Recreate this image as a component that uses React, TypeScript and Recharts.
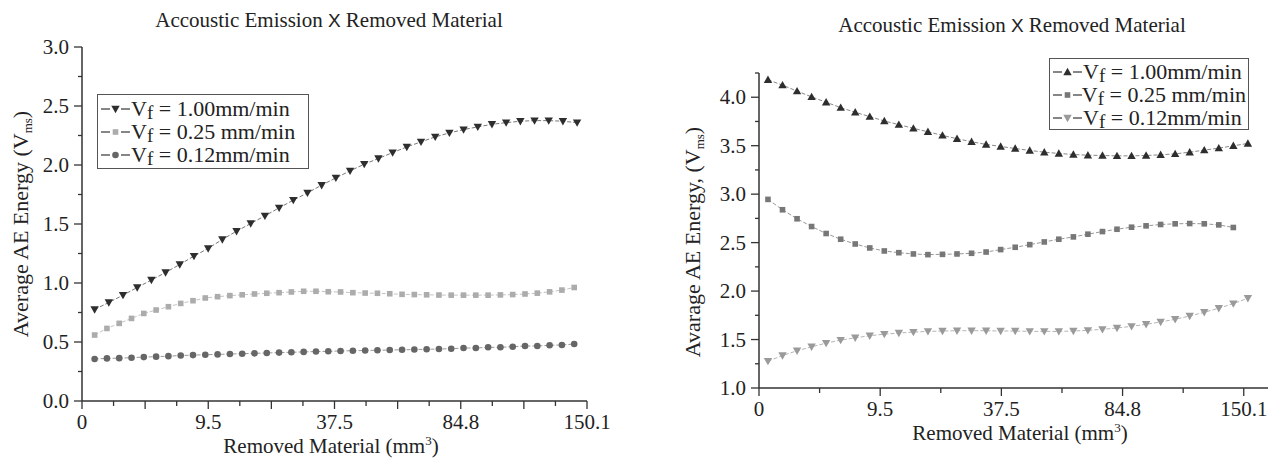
import React from "react";
import { LineChart, Line, XAxis, YAxis } from "recharts";

const serif = '"Liberation Serif", "Times New Roman", serif';

// x tick labels shared by both panels (removed material, mm^3)
const xTickLabels = ["0", "9.5", "37.5", "84.8", "150.1"];
const leftXTicks = [0, 0.25, 0.5, 0.75, 1, 1.25, 1.5, 1.75, 2, 2.25, 2.5, 2.75, 3, 3.25, 3.5, 3.75, 4];
const rightXTicks = [0, 0.5, 1, 1.5, 2, 2.5, 3, 3.5, 4];
const leftYTicks = [0, 0.25, 0.5, 0.75, 1, 1.25, 1.5, 1.75, 2, 2.25, 2.5, 2.75, 3];
const rightYTicks = [1, 1.25, 1.5, 1.75, 2, 2.25, 2.5, 2.75, 3, 3.25, 3.5, 3.75, 4, 4.25];

// left panel (average AE energy)
const leftFast = [
  0.776, 0.835, 0.897, 0.962, 1.025, 1.089, 1.157, 1.228, 1.293, 1.369, 1.439, 1.504,
  1.569, 1.637, 1.702, 1.764, 1.829, 1.891, 1.95, 2.007, 2.055, 2.105, 2.153, 2.196,
  2.238, 2.272, 2.3, 2.323, 2.345, 2.359, 2.371, 2.376, 2.376, 2.371, 2.359,
];
const leftMid = [
  0.559, 0.615, 0.658, 0.7, 0.742, 0.771, 0.799, 0.827, 0.85, 0.873, 0.884, 0.893,
  0.9, 0.907, 0.913, 0.918, 0.924, 0.93, 0.93, 0.926, 0.924, 0.918, 0.915, 0.913,
  0.909, 0.904, 0.902, 0.9, 0.898, 0.897, 0.897, 0.897, 0.897, 0.899, 0.902, 0.907,
  0.914, 0.925, 0.94, 0.962,
];
const leftSlow = [
  0.356, 0.361, 0.363, 0.367, 0.372, 0.376, 0.38, 0.385, 0.389, 0.392, 0.395, 0.398,
  0.401, 0.404, 0.407, 0.41, 0.413, 0.416, 0.419, 0.421, 0.424, 0.426, 0.428, 0.43,
  0.432, 0.434, 0.436, 0.438, 0.441, 0.443, 0.449, 0.449, 0.455, 0.455, 0.46, 0.466,
  0.466, 0.472, 0.475, 0.483,
];

// right panel (avarage AE energy)
const rightFast = [
  4.18, 4.125, 4.063, 4.004, 3.948, 3.893, 3.845, 3.8, 3.755, 3.717, 3.679, 3.644,
  3.606, 3.572, 3.541, 3.513, 3.492, 3.471, 3.451, 3.433, 3.42, 3.409, 3.402, 3.399,
  3.395, 3.395, 3.399, 3.406, 3.416, 3.433, 3.454, 3.475, 3.499, 3.523,
];
const rightMid = [
  2.946, 2.839, 2.746, 2.666, 2.594, 2.535, 2.486, 2.445, 2.414, 2.396, 2.383, 2.376,
  2.379, 2.383, 2.39, 2.403, 2.428, 2.452, 2.479, 2.507, 2.535, 2.559, 2.587, 2.614,
  2.638, 2.659, 2.673, 2.687, 2.694, 2.697, 2.694, 2.683, 2.656,
];
const rightSlow = [
  1.277, 1.335, 1.384, 1.425, 1.463, 1.494, 1.518, 1.539, 1.556, 1.567, 1.577, 1.584,
  1.588, 1.591, 1.591, 1.591, 1.588, 1.588, 1.584, 1.584, 1.584, 1.588, 1.595, 1.605,
  1.619, 1.636, 1.657, 1.681, 1.709, 1.743, 1.781, 1.823, 1.871, 1.926,
];

const feedLabels = ["1.00mm/min", "0.25 mm/min", "0.12mm/min"];

type Shape = "down" | "up" | "square" | "circle";

// samples are evenly spaced along the axis
function toRows(values: number[], first: number, step: number) {
  return values.map((y, i) => ({ x: first + i * step, y }));
}

function Marker({ shape, cx, cy, fill }: { shape: Shape; cx: number; cy: number; fill: string }) {
  if (shape === "down")
    return <path d={`M${cx - 4.2},${cy - 3.2} L${cx + 4.2},${cy - 3.2} L${cx},${cy + 4.2} Z`} fill={fill} />;
  if (shape === "up")
    return <path d={`M${cx - 4.2},${cy + 3.2} L${cx + 4.2},${cy + 3.2} L${cx},${cy - 4.2} Z`} fill={fill} />;
  if (shape === "square") return <rect x={cx - 2.8} y={cy - 2.8} width={5.6} height={5.6} fill={fill} />;
  return <circle cx={cx} cy={cy} r={3.3} fill={fill} />;
}

const leftSeries = [
  { key: "lf", rows: toRows(leftFast, 0.1, 0.1124), shape: "down" as Shape, color: "#2e2e2e", line: "#777", label: feedLabels[0] },
  { key: "lm", rows: toRows(leftMid, 0.1, 0.0974), shape: "square" as Shape, color: "#acacac", line: "#c4c4c4", label: feedLabels[1] },
  { key: "ls", rows: toRows(leftSlow, 0.1, 0.0974), shape: "circle" as Shape, color: "#666", line: "#999", label: feedLabels[2] },
];

const rightSeries = [
  { key: "rf", rows: toRows(rightFast, 0.074, 0.12), shape: "up" as Shape, color: "#2e2e2e", line: "#888", label: feedLabels[0] },
  { key: "rm", rows: toRows(rightMid, 0.074, 0.12), shape: "square" as Shape, color: "#777", line: "#999", label: feedLabels[1] },
  { key: "rs", rows: toRows(rightSlow, 0.074, 0.12), shape: "down" as Shape, color: "#9a9a9a", line: "#b5b5b5", label: feedLabels[2] },
];

const tickText: React.CSSProperties = { fontFamily: serif, fontSize: 21 };

const YTick = (props: any) => {
  const { x, y, payload } = props;
  const v = payload.value as number;
  const major = Math.abs(v * 2 - Math.round(v * 2)) < 1e-6;
  return (
    <g>
      <line x1={x} x2={x - (major ? 8 : 4)} y1={y} y2={y} stroke="#333" strokeWidth={1.3} />
      {major && (
        <text x={x - 13} y={y + 7} textAnchor="end" style={tickText} fill="#222">
          {v.toFixed(1)}
        </text>
      )}
    </g>
  );
};

const makeXTick = (longEvery: number, labelGap: number) => (props: any) => {
  const { x, y, payload } = props;
  const v = payload.value as number;
  const isLong = Math.abs(v / longEvery - Math.round(v / longEvery)) < 1e-6;
  const isLabel = Math.abs(v - Math.round(v)) < 1e-6;
  return (
    <g>
      <line x1={x} x2={x} y1={y} y2={y + (isLong ? 8 : 5)} stroke="#333" strokeWidth={1.3} />
      {isLabel && (
        <text x={x} y={y + labelGap} textAnchor="middle" style={tickText} fill="#222">
          {xTickLabels[Math.round(v)]}
        </text>
      )}
    </g>
  );
};

const LeftXTick = makeXTick(0.5, 28);
const RightXTick = makeXTick(1, 28);

function LegendBox({ series, style }: { series: typeof leftSeries; style: React.CSSProperties }) {
  return (
    <div
      style={{
        position: "absolute",
        border: "1.5px solid #555",
        background: "#fff",
        fontFamily: serif,
        fontSize: 22,
        color: "#222",
        padding: "0 2px 0 2px",
        boxSizing: "border-box",
        whiteSpace: "nowrap",
        ...style,
      }}
    >
      {series.map((s) => (
        <div key={s.key} style={{ height: 23, lineHeight: "20px", display: "flex", alignItems: "center" }}>
          <svg width={31} height={14}>
            <line x1={1} x2={10} y1={7} y2={7} stroke="#444" strokeWidth={1.3} />
            <line x1={21} x2={30} y1={7} y2={7} stroke="#444" strokeWidth={1.3} />
            <Marker shape={s.shape} cx={15.5} cy={7} fill={s.color} />
          </svg>
          <span style={{ lineHeight: "20px" }}>
            V<span style={{ position: "relative", top: 3, fontSize: 19, lineHeight: "14px" }}>f</span> = {s.label}
          </span>
        </div>
      ))}
    </div>
  );
}

function Text({ cx, cy, rotate, size = 21, children }: { cx: number; cy: number; rotate?: boolean; size?: number; children: React.ReactNode }) {
  return (
    <div
      style={{
        position: "absolute",
        left: cx - 200,
        top: cy - 14,
        width: 400,
        height: 28,
        lineHeight: "28px",
        textAlign: "center",
        fontFamily: serif,
        fontSize: size,
        color: "#222",
        whiteSpace: "nowrap",
        transform: rotate ? "rotate(-90deg)" : undefined,
      }}
    >
      {children}
    </div>
  );
}

const Title = () => (
  <>
    Accoustic Emission <span style={{ fontFamily: '"Liberation Sans", Arial, sans-serif', fontSize: 19 }}>X</span> Removed Material
  </>
);

const XLabel = () => (
  <>
    Removed Material (mm<span style={{ fontSize: 13, position: "relative", top: -8 }}>3</span>)
  </>
);

function Panel({
  series,
  width,
  margin,
  xDomain,
  yDomain,
  xTicks,
  yTicks,
  xTick,
}: {
  series: typeof leftSeries;
  width: number;
  margin: { top: number; right: number; bottom: number; left: number };
  xDomain: [number, number];
  yDomain: [number, number];
  xTicks: number[];
  yTicks: number[];
  xTick: any;
}) {
  return (
    <LineChart width={width} height={460} margin={margin}>
      <XAxis
        type="number"
        dataKey="x"
        domain={xDomain}
        ticks={xTicks}
        interval={0}
        height={30}
        tickSize={0}
        tickMargin={0}
        tickLine={false}
        axisLine={{ stroke: "#333", strokeWidth: 1.5 }}
        tick={xTick}
        allowDataOverflow
      />
      <YAxis
        type="number"
        domain={yDomain}
        ticks={yTicks}
        interval={0}
        width={60}
        tickSize={0}
        tickMargin={0}
        tickLine={false}
        axisLine={{ stroke: "#333", strokeWidth: 1.5 }}
        tick={<YTick />}
        allowDataOverflow
      />
      {series.map((s) => (
        <Line
          key={s.key}
          data={s.rows}
          dataKey="y"
          type="linear"
          stroke={s.line}
          strokeWidth={1}
          strokeDasharray="4 2"
          isAnimationActive={false}
          dot={(p: any) => <Marker key={`${s.key}-${p.index}`} shape={s.shape} cx={p.cx} cy={p.cy} fill={s.color} />}
          activeDot={false}
        />
      ))}
    </LineChart>
  );
}

export default function App() {
  return (
    <div style={{ position: "fixed", left: 0, top: 0, width: 1268, height: 460, background: "#fff", overflow: "hidden" }}>
      <div style={{ position: "absolute", left: 0, top: 0 }}>
        <Panel
          series={leftSeries}
          width={640}
          margin={{ top: 47, right: 53, bottom: 29, left: 22 }}
          xDomain={[0, 4]}
          yDomain={[0, 3]}
          xTicks={leftXTicks}
          yTicks={leftYTicks}
          xTick={LeftXTick}
        />
      </div>
      <div style={{ position: "absolute", left: 640, top: 0 }}>
        <Panel
          series={rightSeries}
          width={628}
          margin={{ top: 73, right: 0, bottom: 42, left: 59 }}
          xDomain={[0, 4.2]}
          yDomain={[1, 4.25]}
          xTicks={rightXTicks}
          yTicks={rightYTicks}
          xTick={RightXTick}
        />
      </div>

      <Text cx={329} cy={20}><Title /></Text>
      <Text cx={1012} cy={25}><Title /></Text>

      <Text cx={21} cy={224} rotate size={22}>
        Average AE Energy (V<span style={{ fontSize: 13, position: "relative", top: 4 }}>ms</span>)
      </Text>
      <Text cx={693} cy={242} rotate size={22}>
        Avarage AE Energy, (V<span style={{ fontSize: 13, position: "relative", top: 4 }}>ms</span>)
      </Text>

      <Text cx={331} cy={446}><XLabel /></Text>
      <Text cx={1020} cy={433}><XLabel /></Text>

      <LegendBox series={leftSeries} style={{ left: 97, top: 94, width: 212, height: 75, paddingTop: 2 }} />
      <LegendBox series={rightSeries} style={{ left: 1049, top: 58, width: 200, height: 72, paddingTop: 1 }} />
    </div>
  );
}
